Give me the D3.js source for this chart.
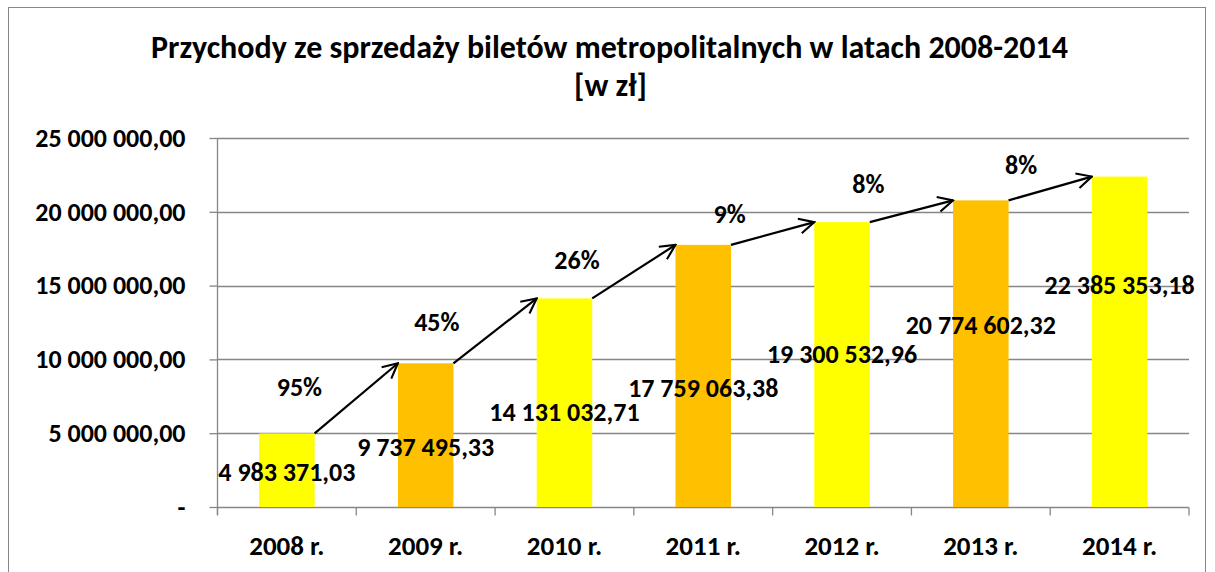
<!DOCTYPE html>
<meta charset='utf-8'>
<body style="margin:0;background:#fff">
<script src='https://cdn.jsdelivr.net/npm/d3@7'></script>
<script>

var years = ['2008 r.', '2009 r.', '2010 r.', '2011 r.', '2012 r.', '2013 r.', '2014 r.'];
var revenue = [4983371.03, 9737495.33, 14131032.71, 17759063.38, 19300532.96, 20774602.32, 22385353.18];
var growthLabels = ['95%', '45%', '26%', '9%', '8%', '8%'];
var yTicks = [0, 5000000, 10000000, 15000000, 20000000, 25000000];

// hand placed label spots from the original (value units / fraction of a category)
var valueLabelAt = [2370000, 4070000, 6440000, 8060000, 10370000, 12330000, 15040000];
var growthLabelAt = [8130000, 12530000, 16730000, 19850000, 21880000, 23170000];
var growthLabelDx = [0.09, 0.08, 0.09, 0.19, 0.19, 0.29];

var colors = { yellow: '#FFFF00', orange: '#FFC000', grid: '#868686', text: '#000000' };
var font = "Carlito, Lato, 'Open Sans', sans-serif";
var width = 1215, height = 572;
var plot = { left: 217.5, right: 1189, top: 138, bottom: 507 };

var svg = d3.select('body').append('svg')
    .attr('width', width)
    .attr('height', height)
    .style('display', 'block')
    .style('font-family', font)
    .style('font-weight', 'bold');

svg.append('rect')
    .attr('x', 8.5).attr('y', 7.5)
    .attr('width', 1197).attr('height', 580)
    .attr('fill', 'none')
    .attr('stroke', '#878787');

var pl = d3.formatLocale({ decimal: ',', thousands: '\u00a0', grouping: [3], currency: ['', ''] });
var fmt = pl.format(',.2f');

var x = d3.scaleBand().domain(years).range([plot.left, plot.right]).paddingInner(0.6).paddingOuter(0.3);
var xCat = d3.scaleBand().domain(years).range([plot.left, plot.right]).padding(0);
var y = d3.scaleLinear().domain([0, 25000000]).range([plot.bottom, plot.top]);

// title
var title = svg.append('text')
    .attr('text-anchor', 'middle')
    .attr('font-size', 32)
    .attr('fill', colors.text);
title.append('tspan').attr('x', width / 2 + 2).attr('y', 58).text('Przychody ze sprzedaży biletów metropolitalnych w latach 2008-2014');
title.append('tspan').attr('x', width / 2 + 3).attr('y', 96).text('[w zł]');

// gridlines
svg.append('g').selectAll('line')
    .data(yTicks.slice(1))
    .enter().append('line')
    .attr('x1', plot.left).attr('x2', plot.right)
    .attr('y1', function(d) { return Math.round(y(d)) + 0.5; })
    .attr('y2', function(d) { return Math.round(y(d)) + 0.5; })
    .attr('stroke', colors.grid)
    .attr('stroke-width', 1.3);

// y axis
var yAxis = svg.append('g')
    .attr('transform', 'translate(' + plot.left + ',0)')
    .call(d3.axisLeft(y).tickValues(yTicks).tickSize(8).tickPadding(24)
        .tickFormat(function(d) { return d === 0 ? '-' : fmt(d); }));
yAxis.select('.domain').attr('stroke', colors.grid).attr('stroke-width', 1.3)
    .attr('d', 'M0,' + plot.top + 'V' + (plot.bottom + 8));
yAxis.selectAll('.tick line').attr('stroke', colors.grid).attr('stroke-width', 1.3);
yAxis.selectAll('.tick text')
    .attr('font-family', font).attr('font-size', 26).attr('font-weight', 'bold')
    .attr('fill', colors.text);

// x axis
var xAxis = svg.append('g').attr('transform', 'translate(0,' + (Math.round(plot.bottom) + 0.5) + ')');
xAxis.append('line')
    .attr('x1', plot.left).attr('x2', plot.right)
    .attr('stroke', colors.grid).attr('stroke-width', 1.3);
xAxis.selectAll('line.tk')
    .data(years.concat(['end']))
    .enter().append('line')
    .attr('class', 'tk')
    .attr('x1', function(d) { return d === 'end' ? plot.right : xCat(d); })
    .attr('x2', function(d) { return d === 'end' ? plot.right : xCat(d); })
    .attr('y1', 0).attr('y2', 8)
    .attr('stroke', colors.grid).attr('stroke-width', 1.3);
xAxis.selectAll('text')
    .data(years)
    .enter().append('text')
    .attr('x', function(d) { return xCat(d) + xCat.bandwidth() / 2; })
    .attr('y', 47)
    .attr('text-anchor', 'middle')
    .attr('font-size', 27)
    .attr('fill', colors.text)
    .text(function(d) { return d; });

// bars
svg.append('g').selectAll('rect')
    .data(revenue)
    .enter().append('rect')
    .attr('x', function(d, i) { return x(years[i]); })
    .attr('y', function(d) { return y(d); })
    .attr('width', x.bandwidth())
    .attr('height', function(d) { return y(0) - y(d); })
    .attr('fill', function(d, i) { return i % 2 ? colors.orange : colors.yellow; });

// arrows
svg.append('defs').append('marker')
    .attr('id', 'head')
    .attr('viewBox', '0 0 12 12')
    .attr('refX', 11).attr('refY', 6)
    .attr('markerWidth', 18).attr('markerHeight', 18)
    .attr('markerUnits', 'userSpaceOnUse')
    .attr('orient', 'auto')
    .append('path')
    .attr('d', 'M1,1 L11,6 L1,11')
    .attr('fill', 'none')
    .attr('stroke', '#000')
    .attr('stroke-width', 1.4);

svg.append('g').selectAll('line')
    .data(revenue.slice(1))
    .enter().append('line')
    .attr('x1', function(d, i) { return x(years[i]) + x.bandwidth(); })
    .attr('y1', function(d, i) { return y(revenue[i]); })
    .attr('x2', function(d, i) { return x(years[i + 1]); })
    .attr('y2', function(d) { return y(d); })
    .attr('stroke', '#000')
    .attr('stroke-width', 2.2)
    .attr('marker-end', 'url(#head)');

// growth labels
svg.append('g').selectAll('text')
    .data(growthLabels)
    .enter().append('text')
    .attr('x', function(d, i) { return x(years[i]) + x.bandwidth() / 2 + growthLabelDx[i] * x.step(); })
    .attr('y', function(d, i) { return y(growthLabelAt[i]); })
    .attr('dy', '0.35em')
    .attr('text-anchor', 'middle')
    .attr('font-size', 26)
    .attr('fill', colors.text)
    .text(function(d) { return d; });

// value labels
svg.append('g').selectAll('text')
    .data(revenue)
    .enter().append('text')
    .attr('x', function(d, i) { return x(years[i]) + x.bandwidth() / 2; })
    .attr('y', function(d, i) { return y(valueLabelAt[i]); })
    .attr('dy', '0.35em')
    .attr('text-anchor', 'middle')
    .attr('font-size', 26)
    .attr('fill', colors.text)
    .text(function(d) { return fmt(d); });

</script>
</body>
